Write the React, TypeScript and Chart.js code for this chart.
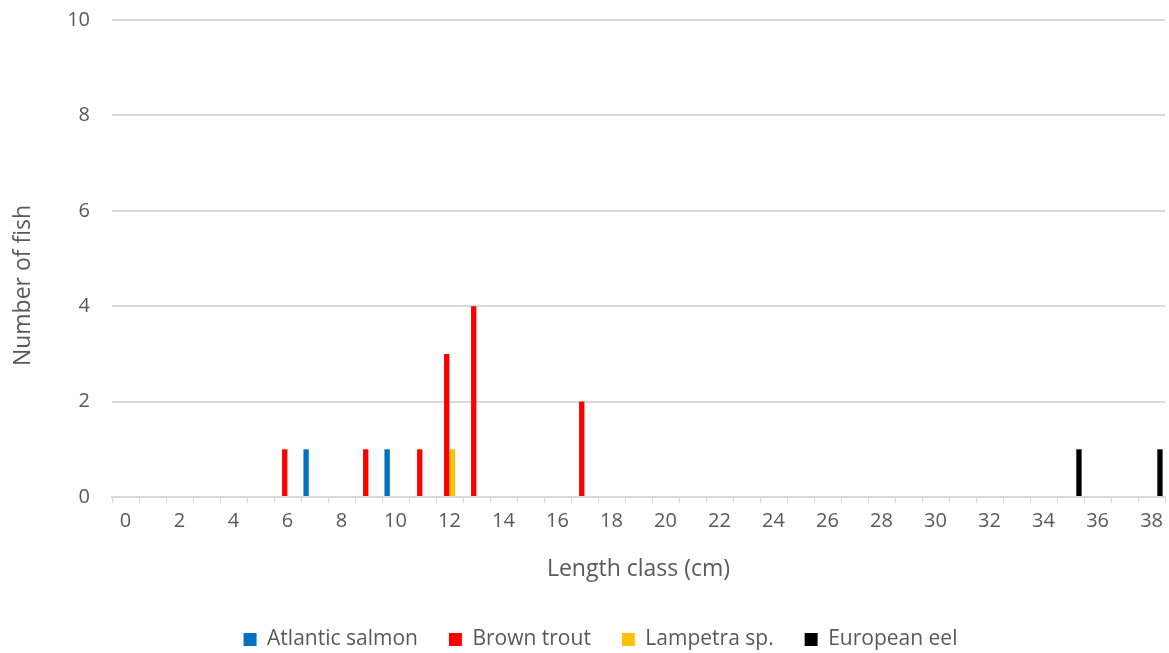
import React, { useEffect, useRef } from 'react';
import { Chart, registerables } from 'chart.js';

Chart.register(...registerables);

const lengthClasses = [
  '0', '1', '2', '3', '4', '5', '6', '7', '8', '9', '10', '11', '12', '13', '14', '15', '16', '17', '18', '19',
  '20', '21', '22', '23', '24', '25', '26', '27', '28', '29', '30', '31', '32', '33', '34', '35', '36', '37', '38',
];

//                    0  1  2  3  4  5  6  7  8  9 10 11 12 13 14 15 16 17 18 19 20 21 22 23 24 25 26 27 28 29 30 31 32 33 34 35 36 37 38
const atlanticSalmon = [0, 0, 0, 0, 0, 0, 0, 1, 0, 0, 1, 0, 0, 0, 0, 0, 0, 0, 0, 0, 0, 0, 0, 0, 0, 0, 0, 0, 0, 0, 0, 0, 0, 0, 0, 0, 0, 0, 0];
const brownTrout = [0, 0, 0, 0, 0, 0, 1, 0, 0, 1, 0, 1, 3, 4, 0, 0, 0, 2, 0, 0, 0, 0, 0, 0, 0, 0, 0, 0, 0, 0, 0, 0, 0, 0, 0, 0, 0, 0, 0];
const lampetra = [0, 0, 0, 0, 0, 0, 0, 0, 0, 0, 0, 0, 1, 0, 0, 0, 0, 0, 0, 0, 0, 0, 0, 0, 0, 0, 0, 0, 0, 0, 0, 0, 0, 0, 0, 0, 0, 0, 0];
const europeanEel = [0, 0, 0, 0, 0, 0, 0, 0, 0, 0, 0, 0, 0, 0, 0, 0, 0, 0, 0, 0, 0, 0, 0, 0, 0, 0, 0, 0, 0, 0, 0, 0, 0, 0, 0, 1, 0, 0, 1];

const seriesNames = ['Atlantic salmon', 'Brown trout', 'Lampetra sp.', 'European eel'];
const seriesColors = ['#0070C0', '#FF0000', '#FFC000', '#000000'];

const yTitleText = 'Number of fish';
const xTitleText = 'Length class (cm)';

const FONT = '"Open Sans", "Noto Sans", sans-serif';
const TEXT = '#595959';
const GRID = '#d9d9d9';

export default function App() {
  const canvasRef = useRef<HTMLCanvasElement | null>(null);

  useEffect(() => {
    if (!canvasRef.current) return;
    const legendShift = {
      id: 'legendShift',
      beforeInit(chart: any) {
        const legend = chart.legend;
        const origFit = legend.fit;
        legend.fit = function () {
          origFit.call(this);
          this.height -= 7;
        };
        const origDraw = legend.draw;
        legend.draw = function () {
          const ctx = this.ctx;
          ctx.save();
          ctx.translate(16, 0);
          origDraw.call(this);
          ctx.restore();
        };
      },
    };
    const yTitle = {
      id: 'yTitle',
      afterDraw(chart: any) {
        const { ctx, chartArea } = chart;
        ctx.save();
        ctx.translate(23, (chartArea.top + chartArea.bottom) / 2 + 27);
        ctx.rotate(-Math.PI / 2);
        ctx.font = `23px ${FONT}`;
        ctx.fillStyle = TEXT;
        ctx.textAlign = 'center';
        ctx.textBaseline = 'middle';
        ctx.fillText(yTitleText, 0, 0);
        ctx.restore();
      },
    };
    const values = [atlanticSalmon, brownTrout, lampetra, europeanEel];
    const chart = new Chart(canvasRef.current, {
      type: 'bar',
      data: {
        labels: lengthClasses,
        datasets: seriesNames.map((name, i) => ({
          label: name,
          data: values[i],
          backgroundColor: seriesColors[i],
          borderWidth: 0,
          categoryPercentage: 0.83,
          barPercentage: 0.95,
        })),
      },
      plugins: [legendShift, yTitle],
      options: {
        animation: false,
        responsive: true,
        maintainAspectRatio: false,
        layout: { padding: { left: 0, right: 0, top: 20, bottom: 0 } },
        plugins: {
          legend: {
            position: 'bottom',
            labels: {
              boxWidth: 13,
              boxHeight: 13,
              padding: 31,
              color: TEXT,
              font: { family: FONT, size: 21 },
            },
          },
          tooltip: { enabled: false },
        },
        scales: {
          x: {
            afterFit(scale: any) {
              scale.height = 101;
            },
            grid: {
              drawOnChartArea: false,
              drawTicks: true,
              tickLength: 6,
              tickColor: GRID,
              offset: true,
            },
            border: { color: GRID, width: 2 },
            ticks: {
              autoSkip: false,
              maxRotation: 0,
              minRotation: 0,
              padding: 6,
              color: TEXT,
              font: { family: FONT, size: 20 },
              callback: (_v: any, i: number) => (i % 2 === 0 ? lengthClasses[i] : ''),
            },
            title: {
              display: true,
              text: xTitleText,
              color: TEXT,
              font: { family: FONT, size: 23 },
              padding: { top: 4, bottom: 15 },
            },
          },
          y: {
            min: 0,
            max: 10,
            afterFit(scale: any) {
              scale.width = 112;
            },
            grid: { color: GRID, lineWidth: 2, drawTicks: true, tickLength: 20, tickColor: 'rgba(0,0,0,0)' },
            border: { display: false },
            ticks: {
              stepSize: 2,
              padding: 2,
              color: TEXT,
              font: { family: FONT, size: 20 },
            },
            title: { display: false },
          },
        },
      },
    });
    return () => chart.destroy();
  }, []);

  return (
    <div style={{ position: 'fixed', left: 0, top: 0, width: 1169, height: 653, background: '#fff' }}>
      <canvas ref={canvasRef} />
    </div>
  );
}
